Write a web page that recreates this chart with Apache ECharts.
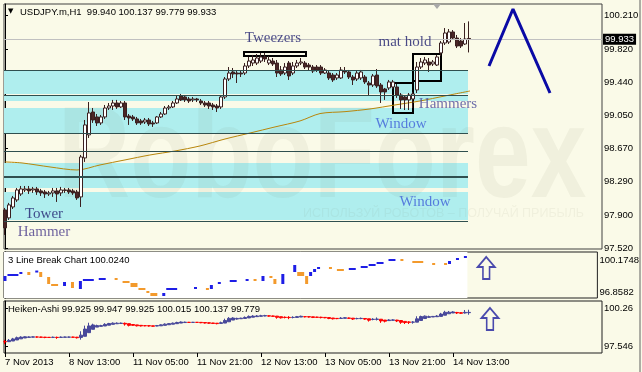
<!DOCTYPE html>
<html><head><meta charset="utf-8">
<script src="https://cdn.jsdelivr.net/npm/echarts@6/dist/echarts.min.js"></script>
<style>html,body{margin:0;padding:0;background:#FAFAE8}#c{width:642px;height:372px}</style>
</head><body><div id="c"></div><script>
// ---- main candles: [open, close, low, high] ----
const candles = [
[97.965,97.758,97.677,97.988],[97.873,98.023,97.850,98.046],[97.999,98.103,97.976,98.126],[98.080,98.195,98.057,98.218],
[98.149,98.207,98.126,98.241],[98.195,98.207,98.172,98.241],[98.207,98.184,98.149,98.241],[98.195,98.207,98.161,98.230],
[98.207,98.172,98.138,98.230],[98.184,98.161,98.126,98.207],[98.172,98.149,98.103,98.195],[98.149,98.161,98.126,98.184],
[98.161,98.184,98.115,98.218],[98.184,98.149,98.057,98.218],[98.161,98.195,98.126,98.230],[98.195,98.190,98.161,98.218],
[98.195,98.172,98.149,98.218],[98.184,98.161,98.138,98.207],[98.172,98.103,98.080,98.195],[98.115,98.575,97.999,98.598],
[98.564,98.944,98.518,99.001],[98.829,99.082,98.794,99.208],[99.093,99.001,98.967,99.139],[99.036,98.967,98.932,99.070],
[98.967,99.036,98.944,99.059],[99.036,99.139,99.013,99.174],[99.139,99.162,99.116,99.197],[99.162,99.197,99.116,99.232],
[99.197,99.151,99.128,99.232],[99.151,99.197,99.139,99.220],[99.197,99.036,99.001,99.220],[99.047,99.024,98.944,99.070],
[99.036,99.013,98.990,99.059],[99.013,98.967,98.944,99.036],[98.990,98.967,98.944,99.013],[98.978,99.001,98.955,99.024],
[99.001,98.955,98.932,99.024],[98.967,98.955,98.921,98.990],[98.967,99.036,98.955,99.047],[99.036,99.070,99.024,99.093],
[99.070,99.139,99.059,99.162],[99.139,99.151,99.116,99.174],[99.151,99.197,99.139,99.220],[99.197,99.243,99.185,99.278],
[99.278,99.232,99.220,99.301],[99.266,99.232,99.208,99.289],[99.243,99.220,99.197,99.266],[99.232,99.243,99.208,99.266],
[99.243,99.232,99.208,99.255],[99.220,99.197,99.174,99.243],[99.197,99.174,99.151,99.220],[99.197,99.162,99.128,99.220],
[99.174,99.151,99.116,99.197],[99.162,99.139,99.093,99.185],[99.151,99.266,99.128,99.289],[99.266,99.473,99.243,99.496],
[99.473,99.542,99.450,99.611],[99.554,99.531,99.485,99.600],[99.542,99.531,99.427,99.565],[99.542,99.531,99.496,99.565],
[99.542,99.623,99.519,99.657],[99.623,99.680,99.600,99.727],[99.657,99.692,99.623,99.750],[99.657,99.715,99.634,99.761],
[99.680,99.727,99.657,99.773],[99.727,99.704,99.669,99.773],[99.657,99.692,99.634,99.738],[99.680,99.646,99.623,99.715],
[99.657,99.542,99.496,99.692],[99.577,99.531,99.508,99.623],[99.542,99.611,99.519,99.657],[99.657,99.508,99.462,99.680],
[99.542,99.623,99.519,99.669],[99.623,99.657,99.600,99.692],[99.657,99.669,99.634,99.715],[99.657,99.611,99.588,99.680],
[99.634,99.611,99.577,99.657],[99.611,99.565,99.542,99.634],[99.611,99.577,99.554,99.634],[99.611,99.542,99.519,99.634],
[99.542,99.577,99.531,99.600],[99.542,99.485,99.462,99.565],[99.519,99.462,99.439,99.542],[99.485,99.519,99.462,99.542],
[99.485,99.577,99.473,99.611],[99.565,99.554,99.531,99.611],[99.554,99.496,99.473,99.577],[99.496,99.462,99.404,99.519],
[99.473,99.542,99.450,99.565],[99.485,99.554,99.462,99.577],[99.496,99.439,99.416,99.519],[99.427,99.404,99.289,99.450],
[99.404,99.508,99.381,99.531],[99.519,99.393,99.370,99.588],[99.404,99.324,99.197,99.427],[99.358,99.324,99.232,99.370],
[99.370,99.439,99.347,99.462],[99.381,99.439,99.358,99.462],[99.381,99.289,99.255,99.416],[99.289,99.232,99.128,99.312],
[99.266,99.232,99.116,99.278],[99.232,99.289,99.116,99.312],[99.243,99.301,99.139,99.324],[99.347,99.611,99.312,99.669],
[99.611,99.669,99.588,99.715],[99.657,99.692,99.634,99.727],[99.669,99.634,99.554,99.715],[99.646,99.669,99.623,99.692],
[99.634,99.727,99.623,99.750],[99.773,99.888,99.738,99.911],[99.888,100.003,99.865,100.060],[99.899,100.015,99.876,100.049],
[100.015,99.945,99.922,100.037],[99.945,99.853,99.830,99.980],[99.911,99.853,99.830,99.945],[99.876,99.934,99.865,100.118],
[99.940,99.933,99.779,100.137]
];
// moving average samples [barIndex, value]
const maPoints = [[0,98.518],[4.25,98.506],[11.25,98.460],[18,98.425],[23.75,98.483],[30,98.541],[36.25,98.598],[42.5,98.644],
[48.75,98.702],[55,98.782],[61.25,98.851],[67.5,98.921],[73.75,98.990],[78.75,99.075],[85,99.097],[91.25,99.128],[97.5,99.174],
[103.75,99.220],[110,99.278],[116.25,99.335]];
// cyan zones [low, high]
const bands = [[99.300,99.577],[99.220,99.278],[98.851,99.139],[98.218,98.506],[97.850,98.172]];
const bandRange = [-0.25, 115.75];
const levelLines = [99.577, 99.289, 98.851, 98.644, 97.838];
const thickLevel = 98.345;
const lastPrice = 99.933;
// pattern boxes [i0, i1, top, bottom]
const boxes = [[59.75,75.25,99.784,99.738],[102,109,99.761,99.450],[97,102,99.427,99.082]];
// annotations [barIndex, price, text, color]
const annotations = [
 [67,99.945,'Tweezers','#1E1E6E'],[100,99.899,'mat hold','#1E1E6E'],[110.75,99.185,'Hammers','#4B4B9B'],
 [99,98.955,'Window','#3F5FD8'],[105,98.057,'Window','#3F5FD8'],[9.75,97.919,'Tower','#1E1E6E'],[9.75,97.711,'Hammer','#4B3C8C']
];
const zigzag = [[121,99.623],[127,100.279],[136.25,99.312]];
// 3 line break blocks [iStart, iEnd, top, bottom, dir]
const lineBreak = [
 [0,0,98.517,98.000,1],[1,3,98.621,98.621,1],[4,4,98.828,98.828,1],[6,6,98.932,98.621,-1],[8,8,98.980,98.980,1],
 [9,9,98.932,98.414,-1],[11,11,98.414,97.689,-1],[12,13,97.585,97.585,-1],[15,15,97.896,97.482,1],[17,17,97.896,97.274,-1],
 [19,19,98.000,97.171,1],[20,22,98.103,98.103,1],[24,25,98.207,98.207,1],[28,28,98.207,98.000,-1],[30,31,98.000,97.792,-1],
 [32,33,97.792,97.378,-1],[34,35,97.171,96.964,-1],[36,36,96.964,96.756,-1],[37,38,96.756,96.445,-1],[40,40,96.756,96.445,1],
 [41,43,97.171,97.171,1],[48,48,97.274,97.274,1],[51,51,97.171,97.067,-1],[52,52,97.585,97.171,1],[54,54,97.792,97.792,1],
 [57,58,98.000,98.000,1],[61,61,98.103,98.103,1],[63,63,98.103,98.103,-1],[65,65,98.517,98.000,1],[67,67,98.414,98.207,-1],
 [68,68,98.207,97.689,-1],[70,70,98.724,97.689,1],[73,73,99.657,98.932,1],[74,75,98.932,98.517,-1],[76,76,98.517,97.689,-1],
 [77,77,98.932,98.517,1],[78,78,99.242,98.932,1],[79,79,99.346,99.346,1],[82,82,99.346,99.242,-1],[84,85,99.139,99.139,-1],
 [87,88,99.242,99.242,1],[90,91,99.450,99.450,1],[92,93,99.657,99.657,1],[94,95,99.864,99.864,1],[97,98,100.175,100.175,1],
 [100,100,100.175,100.071,-1],[103,105,99.968,99.968,-1],[108,108,99.760,99.760,-1],[111,111,99.760,99.553,-1],
 [112,112,100.071,99.760,1],[114,114,100.278,100.278,1],[116,116,100.486,100.486,1]
];
const arrowLB = [121.25, 99.346];
const arrowHA = [121.25, 99.475];
// axes ticks
const xTickIdx = [0,16,32,48,64,80,96,112];
const xTickLabels = ['7 Nov 2013','8 Nov 13:00','11 Nov 05:00','11 Nov 21:00','12 Nov 13:00','13 Nov 05:00','13 Nov 21:00','14 Nov 13:00'];
const mainTicks = [97.52,97.90,98.29,98.67,99.05,99.44,99.82,100.21];
const lbTicks = [96.8582,100.1748];
const haTicks = [97.546,100.26];
const haTickLabels = ['97.546','100.26'];

// ---- Heiken-Ashi derived from candles ----
const ha = [];
let pO=null,pC=null;
candles.forEach((c,i)=>{const [o,cl,l,h]=c;const hc=(o+cl+l+h)/4;const ho=i===0?(o+cl)/2:(pO+pC)/2;
 ha.push([i,ho,hc,Math.min(l,ho,hc),Math.max(h,ho,hc)]);pO=ho;pC=hc;});

const CREAM='#FAFAE8', FONT='Liberation Sans', FS=9.5;
const xMin=-0.25, xMax=149.25;
const chart = echarts.init(document.getElementById('c'), null, {renderer:'canvas'});
function xAx(g, show){
  const a={type:'value',gridIndex:g,min:xMin,max:xMax,splitLine:{show:false},axisLine:{show:false},axisTick:{show:false},axisLabel:{show:false}};
  if(show){
    a.axisTick={show:true,customValues:xTickIdx,length:4,lineStyle:{color:'#000'}};
    a.axisLabel={show:true,customValues:xTickIdx,align:'left',margin:4,fontSize:FS,fontFamily:FONT,color:'#000',
      formatter:v=>xTickLabels[xTickIdx.indexOf(Math.round(v))]||''};
  }
  return a;
}
function yAx(g,min,max,ticks,fmt){
  return {type:'value',gridIndex:g,position:'right',min,max,splitLine:{show:false},
   axisLine:{show:true,lineStyle:{color:'#000'}},
   axisTick:{show:true,customValues:ticks,length:3,lineStyle:{color:'#000'}},
   axisLabel:{customValues:ticks,margin:2,fontSize:FS,fontFamily:FONT,color:'#000',formatter:fmt}};
}
const arrowPath='path://M9,0 L18,10 L12.5,10 L12.5,22 L5.5,22 L5.5,10 L0,10 Z';
const option = {
 backgroundColor: CREAM,
 animation:false,
 grid:[
  {left:4,top:4,width:598,height:245,show:true,borderColor:'#404040',borderWidth:1,backgroundColor:CREAM},
  {left:4,top:252,width:598,height:46,show:true,borderColor:'#202020',borderWidth:1,backgroundColor:CREAM},
  {left:4,top:301,width:598,height:52,show:true,borderColor:'#202020',borderWidth:1,backgroundColor:CREAM}
 ],
 xAxis:[xAx(0,false),xAx(1,false),xAx(2,true)],
 yAxis:[
  yAx(0,97.515,100.337,mainTicks,v=>v.toFixed(3)),
  yAx(1,96.237,101.004,lbTicks,v=>v.toFixed(4)),
  yAx(2,97.046,100.76,haTicks,v=>haTickLabels[haTicks.indexOf(v)]||v.toFixed(3))
 ],
 graphic:[
  {type:'text',x:58,y:96,z:2,scaleX:0.77,silent:true,style:{text:'RoboForex',fontSize:130,fontWeight:'bold',fontFamily:FONT,fill:'rgba(110,110,80,0.065)'}},
  {type:'text',x:303,y:207,z:2,silent:true,style:{text:'ИСПОЛЬЗУЙ РОБОТОВ – ПОЛУЧАЙ ПРИБЫЛЬ',fontSize:12.5,fontFamily:FONT,fill:'rgba(110,110,80,0.07)'}},
  {type:'text',left:8,top:8,z:20,style:{text:'▼',fontSize:7,fontFamily:'DejaVu Sans',fill:'#000'}},
  {type:'text',left:20,top:7,z:20,style:{text:'USDJPY.m,H1  99.940 100.137 99.779 99.933',fontSize:FS,fontFamily:FONT,fill:'#000'}},
  {type:'text',left:8,top:255,z:20,style:{text:'3 Line Break Chart 100.0240',fontSize:FS,fontFamily:FONT,fill:'#000'}},
  {type:'text',left:8,top:304,z:20,style:{text:'Heiken-Ashi 99.925 99.947 99.925 100.015 100.137 99.779',fontSize:FS,fontFamily:FONT,fill:'#000'}},
  {type:'polygon',z:20,shape:{points:[[433,4],[441,4],[437,9]]},style:{fill:'#A8A8A8'}},
  {type:'line',z:20,shape:{x1:640,y1:0,x2:640,y2:372},style:{stroke:'#606060',lineWidth:1}}
 ],
 series:[
  {type:'line',xAxisIndex:0,yAxisIndex:0,data:[],z:1,silent:true,
   markArea:{silent:true,label:{show:false},itemStyle:{color:'#AFEEEE'},
     data:bands.map(b=>[{coord:[bandRange[0],b[0]]},{coord:[bandRange[1],b[1]]}])},
   markLine:{silent:true,symbol:['none','none'],label:{show:false},animation:false,
     data:levelLines.map(p=>[{coord:[bandRange[0],p],lineStyle:{color:'#2F4F4F',width:1,type:'solid'}},{coord:[bandRange[1],p]}])
       .concat([[{coord:[bandRange[0],thickLevel],lineStyle:{color:'#2F4F4F',width:2,type:'solid'}},{coord:[bandRange[1],thickLevel]}]])}
  },
  {type:'line',xAxisIndex:0,yAxisIndex:0,data:maPoints,smooth:0.3,symbol:'none',z:3,silent:true,lineStyle:{color:'#B8860B',width:1}},
  {type:'candlestick',xAxisIndex:0,yAxisIndex:0,z:4,barWidth:3,silent:true,
   data:candles.map((c,i)=>[i,c[0],c[1],c[2],c[3]]),encode:{x:0,y:[1,2,3,4]},
   itemStyle:{color:'#FFFFFF',color0:'#4A2626',borderColor:'#3A2020',borderColor0:'#3A2020',borderWidth:1},
   markLine:{silent:true,symbol:['none','none'],animation:false,data:[{yAxis:lastPrice}],
     lineStyle:{color:'#C0C0C0',width:1,type:'solid'},
     label:{position:'end',distance:1,formatter:lastPrice.toFixed(3),backgroundColor:'#000',color:'#fff',padding:[1,2,0,2],fontSize:FS,fontFamily:FONT}}
  },
  {type:'line',xAxisIndex:0,yAxisIndex:0,data:[],z:6,silent:true,
   markArea:{silent:true,label:{show:false},itemStyle:{color:'rgba(0,0,0,0)',borderColor:'#000',borderWidth:2},
     data:boxes.map(b=>[{coord:[b[0],b[2]]},{coord:[b[1],b[3]]}])}},
  {type:'line',xAxisIndex:0,yAxisIndex:0,data:zigzag,symbol:'none',z:6,silent:true,lineStyle:{color:'#0A0AA5',width:3}},
  {type:'scatter',xAxisIndex:0,yAxisIndex:0,z:7,silent:true,symbolSize:1,itemStyle:{color:'rgba(0,0,0,0)'},
   label:{show:true,position:'inside',fontFamily:'Liberation Serif',fontSize:15},
   data:annotations.map(a=>({value:[a[0],a[1]],label:{formatter:a[2],color:a[3]}}))},
  // 3 line break panel
  {type:'line',xAxisIndex:1,yAxisIndex:1,data:[],z:1,silent:true,
   markArea:{silent:true,label:{show:false},itemStyle:{color:'#FFFFFF'},data:[[{coord:[-0.25,96.237]},{coord:[116.5,101.004]}]]}},
  {type:'custom',xAxisIndex:1,yAxisIndex:1,z:3,silent:true,data:lineBreak,encode:{x:[0,1],y:[2,3]},
   renderItem:(params,api)=>{
     const p1=api.coord([api.value(0),api.value(2)]);const p2=api.coord([api.value(1),api.value(3)]);
     const x=p1[0]-1.5,w=p2[0]-p1[0]+3;let y=p1[1],h=p2[1]-p1[1];if(h<2){y-=1;h=2;}
     return {type:'rect',shape:{x,y,width:w,height:h},style:{fill:api.value(4)>0?'#1E1EE6':'#F39A2C'}};
   }},
  {type:'scatter',xAxisIndex:1,yAxisIndex:1,z:5,silent:true,symbol:arrowPath,symbolSize:[17,22],
   itemStyle:{color:'rgba(0,0,0,0)',borderColor:'#1E1E9E',borderWidth:1.8},data:[arrowLB]},
  // Heiken-Ashi
  {type:'candlestick',xAxisIndex:2,yAxisIndex:2,z:4,barWidth:3,silent:true,data:ha,encode:{x:0,y:[1,2,3,4]},
   itemStyle:{color:'#48489A',color0:'#FF0000',borderColor:'#48489A',borderColor0:'#FF0000',borderWidth:1}},
  {type:'scatter',xAxisIndex:2,yAxisIndex:2,z:5,silent:true,symbol:arrowPath,symbolSize:[17,22],
   itemStyle:{color:'rgba(0,0,0,0)',borderColor:'#1E1E9E',borderWidth:1.8},data:[arrowHA]}
 ]
};
chart.setOption(option);
</script></body></html>
